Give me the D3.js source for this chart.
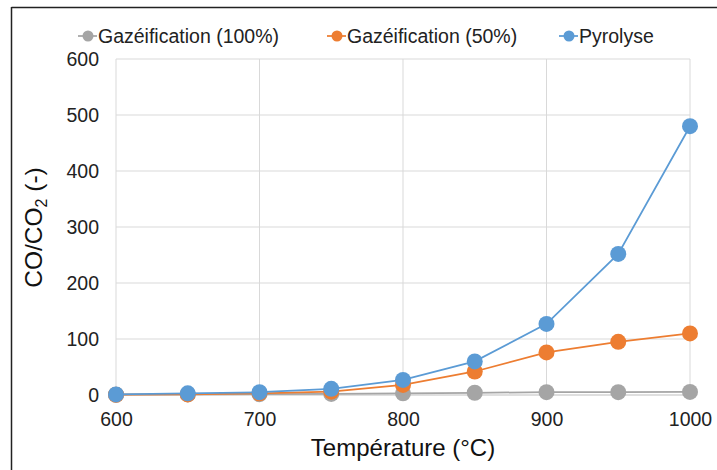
<!DOCTYPE html>
<html><head><meta charset="utf-8">
<script src="https://cdn.jsdelivr.net/npm/d3@7"></script>
<style>body{margin:0;background:#fff}svg{display:block;font-family:"Liberation Sans",Arial,sans-serif}</style>
</head><body>
<svg id="c" width="717" height="470"></svg>
<script>
const temps = [600, 650, 700, 750, 800, 850, 900, 950, 1000];
const gaz100 = [0.5, 1, 1.5, 2, 3, 4, 5, 5, 5.5];
const gaz50 = [0.5, 1, 3, 6, 18, 42, 76, 95, 110];
const pyrolyse = [1, 3, 5, 11, 27, 60, 127, 252, 480];
const seriesNames = ["Gazéification (100%)", "Gazéification (50%)", "Pyrolyse"];
const seriesColors = ["#A5A5A5", "#ED7D31", "#5B9BD5"];
const xTicks = [600, 700, 800, 900, 1000];
const yTicks = [0, 100, 200, 300, 400, 500, 600];

const svg = d3.select("#c");
const x = d3.scaleLinear().domain([600, 1000]).range([116, 690]);
const y = d3.scaleLinear().domain([0, 600]).range([395, 59]);

// frame lines
svg.append("line").attr("x1", 11.5).attr("x2", 717).attr("y1", 7.5).attr("y2", 7.5).attr("stroke", "#222").attr("stroke-width", 1.5);
svg.append("line").attr("x1", 11.5).attr("x2", 11.5).attr("y1", 7).attr("y2", 470).attr("stroke", "#222").attr("stroke-width", 1.5);

// gridlines
svg.append("g").selectAll("line").data(yTicks.filter(d => d > 0)).join("line")
  .attr("x1", x(600)).attr("x2", x(1000)).attr("y1", d => y(d)).attr("y2", d => y(d))
  .attr("stroke", "#D9D9D9").attr("stroke-width", 1);
svg.append("g").selectAll("line").data(xTicks.filter(d => d > 600)).join("line")
  .attr("x1", d => x(d)).attr("x2", d => x(d)).attr("y1", y(600)).attr("y2", y(0))
  .attr("stroke", "#D9D9D9").attr("stroke-width", 1);
svg.append("line").attr("x1", x(600)).attr("x2", x(600)).attr("y1", y(600)).attr("y2", y(0)).attr("stroke", "#D9D9D9");
svg.append("line").attr("x1", x(600)).attr("x2", x(1000)).attr("y1", y(0)).attr("y2", y(0)).attr("stroke", "#BFBFBF");

// axes labels
const yAxis = d3.axisLeft(y).tickValues(yTicks).tickFormat(d => d).tickSize(0).tickPadding(0);
const gy = svg.append("g").attr("transform", `translate(99,0)`).call(yAxis);
gy.select(".domain").remove();
gy.selectAll("text").attr("font-size", 19.5).attr("fill", "#222").attr("font-family", "Liberation Sans, Arial, sans-serif");

const xAxis = d3.axisBottom(x).tickValues(xTicks).tickFormat(d => d).tickSize(0).tickPadding(0);
const gx = svg.append("g").attr("transform", `translate(0,412)`).call(xAxis);
gx.select(".domain").remove();
gx.selectAll("text").attr("font-size", 19.5).attr("fill", "#222").attr("font-family", "Liberation Sans, Arial, sans-serif");

// titles
svg.append("text").attr("x", 403).attr("y", 456).attr("text-anchor", "middle").attr("font-size", 24).attr("fill", "#111").text("Température (°C)");
const yt = svg.append("text").attr("transform", `translate(42,227.5) rotate(-90)`).attr("text-anchor", "middle").attr("font-size", 24.5).attr("fill", "#111");
yt.append("tspan").text("CO/CO");
yt.append("tspan").attr("font-size", 16).attr("dy", 5).text("2");
yt.append("tspan").attr("dy", -5).text(" (-)");

// series
const data = [gaz100, gaz50, pyrolyse];
const line = d3.line().x((d, i) => x(temps[i])).y(d => y(d));
data.forEach((vals, k) => {
  svg.append("path").datum(vals).attr("d", line).attr("fill", "none").attr("stroke", seriesColors[k]).attr("stroke-width", 1.75);
  svg.append("g").selectAll("circle").data(vals).join("circle")
    .attr("cx", (d, i) => x(temps[i])).attr("cy", d => y(d)).attr("r", 8).attr("fill", seriesColors[k]);
});

// legend
const legTextX = [98, 347, 579];
seriesNames.forEach((n, k) => {
  const g = svg.append("g").attr("transform", `translate(${legTextX[k]},36)`);
  g.append("line").attr("x1", -20).attr("x2", -1).attr("stroke", seriesColors[k]).attr("stroke-width", 1.75);
  g.append("circle").attr("cx", -10).attr("r", 5.5).attr("fill", seriesColors[k]);
  g.append("text").attr("x", 0).attr("y", 7).attr("font-size", 19.5).attr("fill", "#222").text(n);
});
</script>
</body></html>
